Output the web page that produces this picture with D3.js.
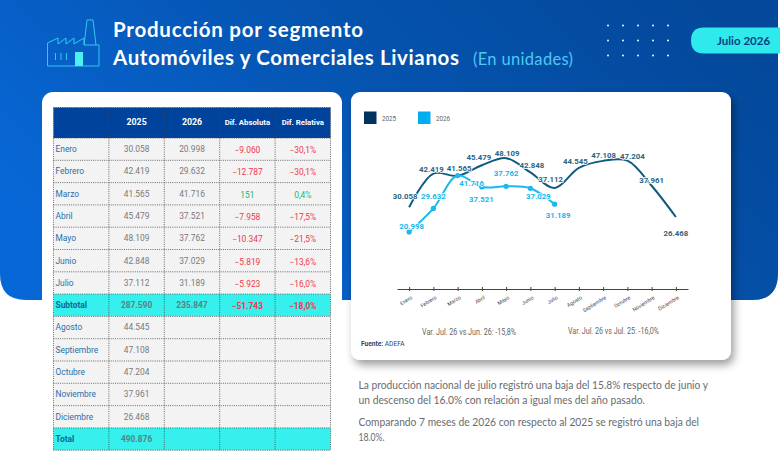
<!DOCTYPE html>
<html>
<head>
<meta charset="utf-8">
<script src="https://cdn.jsdelivr.net/npm/d3@7"></script>
<style>
  body { margin: 0; background: #fff; overflow: hidden; }
  svg { display: block; }
  text { font-family: Roboto, sans-serif; }
  .raleway { font-family: Lato, sans-serif; }
  .l25, .l26 { paint-order: stroke; stroke: #fff; stroke-width: 1.6px; stroke-linejoin: round; }
</style>
</head>
<body>
<div id="chart"></div>
<script>
const months = ["Enero","Febrero","Marzo","Abril","Mayo","Junio","Julio","Agosto","Septiembre","Octubre","Noviembre","Diciembre"];
const values2025 = [30058,42419,41565,45479,48109,42848,37112,44545,47108,47204,37961,26468];
const values2026 = [20998,29632,41716,37521,37762,37029,31189];
const difAbsoluta = [-9060,-12787,151,-7958,-10347,-5819,-5923];
const difRelativa = [-30.1,-30.1,0.4,-17.5,-21.5,-13.6,-16.0];
const subtotal = ["Subtotal",287590,235847,-51743,-18.0];
const total = ["Total",490876];
const headers = ["","2025","2026","Dif. Absoluta","Dif. Relativa"];

const width = 780, height = 455;

// label nudges, by hand
const offsets2025 = [[-4,-11],[-2,-5],[1.5,-7.5],[-3,-8],[1,-5.5],[1.5,-7],[-4,-9],[-3.5,-7],[0.5,-6],[5,-5],[0,-6],[0,16]];
const offsets2026 = [[2.5,-6],[0,-12.5],[14,7],[-0.5,12.5],[0,-13],[8,7.5],[3.5,11]];

const es = d3.formatLocale({decimal: ",", thousands: ".", grouping: [3], currency: ["",""]});
const fmt = es.format(",d");
const fmtPct = d => es.format(".1f")(d) + "%";

const svg = d3.select("#chart").append("svg")
    .attr("width", width)
    .attr("height", height)
    .attr("viewBox", "0 0 " + width + " " + height);

const defs = svg.append("defs");
const grad = defs.append("linearGradient").attr("id", "bg").attr("x1", 0).attr("x2", 1).attr("y1", 0.6).attr("y2", 0.2);
grad.append("stop").attr("offset", "0%").attr("stop-color", "#0867d6");
grad.append("stop").attr("offset", "55%").attr("stop-color", "#0553ae");
grad.append("stop").attr("offset", "100%").attr("stop-color", "#03489a");
defs.append("filter").attr("id", "shadow").attr("x", "-10%").attr("y", "-10%").attr("width", "125%").attr("height", "125%")
    .append("feDropShadow").attr("dx", 3).attr("dy", 5).attr("stdDeviation", 4.5).attr("flood-color", "#000").attr("flood-opacity", 0.38);

// header band
svg.append("path")
    .attr("d", "M0,0H778V274Q778,300 752,300H26Q0,300 0,274Z")
    .attr("fill", "url(#bg)");

// factory icon
const icon = svg.append("g").attr("fill", "none").attr("stroke", "#2fc9ee").attr("stroke-width", 1);
icon.append("path").attr("d", "M47.5,66V43L58,38V44L66,38V44L74,38V44L84,38V45H99V66Z");
icon.append("path").attr("d", "M84,45L87,20H93L96,45");
icon.append("path").attr("d", "M55.5,53V60M61,53V60M66.5,53V60");
svg.append("rect").attr("x", 75).attr("y", 52).attr("width", 8).attr("height", 14).attr("fill", "#4df2f0");

svg.append("text").attr("class", "raleway").attr("x", 113).attr("y", 37)
    .attr("fill", "#fff").attr("font-size", 20.5).attr("font-weight", 700)
    .attr("textLength", 250).attr("lengthAdjust", "spacing").text("Producción por segmento");
svg.append("text").attr("class", "raleway").attr("x", 113).attr("y", 65)
    .attr("fill", "#fff").attr("font-size", 20.5).attr("font-weight", 700)
    .attr("textLength", 346).attr("lengthAdjust", "spacing").text("Automóviles y Comerciales Livianos");
svg.append("text").attr("class", "raleway").attr("x", 473).attr("y", 65)
    .attr("fill", "#4cc8f2").attr("font-size", 16.5).attr("font-weight", 400)
    .attr("textLength", 100).attr("lengthAdjust", "spacing").text("(En unidades)");

// dots
svg.append("g").selectAll("circle")
    .data(d3.cross(d3.range(5), d3.range(3)))
    .join("circle")
    .attr("cx", d => 608 + d[0] * 15)
    .attr("cy", d => 25.5 + d[1] * 15)
    .attr("r", 1)
    .attr("fill", "#dff");

// date pill
svg.append("path")
    .attr("d", "M780,27.5H704Q691,27.5 691,40.5Q691,53.5 704,53.5H780Z")
    .attr("fill", "#2eeaec");
svg.append("text").attr("class", "raleway").attr("x", 717).attr("y", 44.5)
    .attr("fill", "#0c3f80").attr("font-size", 11.5).attr("font-weight", 700).text("Julio 2026");

// cards
svg.append("rect").attr("x", 42).attr("y", 92).attr("width", 300).attr("height", 363).attr("rx", 11).attr("fill", "#fff");
svg.append("rect").attr("x", 351).attr("y", 92).attr("width", 380).attr("height", 268).attr("rx", 9)
    .attr("fill", "#fff").attr("filter", "url(#shadow)");

// ---------- table ----------
const rows = months.map((m, i) => ({
    kind: "month",
    cells: i < 7
        ? [m, fmt(values2025[i]), fmt(values2026[i]), fmt(difAbsoluta[i]), fmtPct(difRelativa[i])]
        : [m, fmt(values2025[i]), "", "", ""],
    diff: i < 7 ? difAbsoluta[i] : 0
}));
rows.splice(7, 0, {
    kind: "total",
    cells: [subtotal[0], fmt(subtotal[1]), fmt(subtotal[2]), fmt(subtotal[3]), fmtPct(subtotal[4])],
    diff: subtotal[3]
});
rows.push({kind: "total", cells: [total[0], fmt(total[1]), "", "", ""], diff: 0});

const colX = d3.scaleBand().domain(d3.range(5)).range([53.5, 330.5]);
const rowY = d3.scaleBand().domain(d3.range(rows.length)).range([138, 450.2]);
const grid = "#444";
const table = svg.append("g");

table.append("rect").attr("x", 53.5).attr("y", 107.5).attr("width", 277).attr("height", 30.5).attr("fill", "#00439c");
table.selectAll(".hd").data(headers).join("text")
    .attr("class", "hd")
    .attr("x", (d, i) => colX(i) + colX.bandwidth() / 2)
    .attr("y", 125)
    .attr("text-anchor", "middle")
    .attr("fill", "#fff")
    .attr("font-size", (d, i) => i < 3 ? 8.8 : 7.8)
    .attr("font-weight", 700)
    .text(d => d);

const rowG = table.selectAll(".row").data(rows).join("g")
    .attr("class", "row")
    .attr("transform", (d, i) => "translate(0," + rowY(i) + ")");

rowG.append("rect")
    .attr("x", 53.5)
    .attr("width", 277)
    .attr("height", rowY.bandwidth())
    .attr("fill", d => d.kind == "total" ? "#35f0ec" : "#f3f3f3");

rowG.selectAll("text").data(d => d.cells.map((c, i) => ({text: c, col: i, row: d}))).join("text")
    .attr("x", d => d.col == 0 ? 55.5 : colX(d.col) + colX.bandwidth() / 2)
    .attr("y", d => d.col > 2 ? 15 : 14)
    .attr("text-anchor", d => d.col == 0 ? "start" : "middle")
    .attr("font-size", 8.4)
    .attr("font-weight", d => d.row.kind == "total" ? 700 : 400)
    .attr("fill", d => {
        if (d.col == 0) return d.row.kind == "total" ? "#0b6a96" : "#2c6ea8";
        if (d.col < 3) return d.row.kind == "total" ? "#5f7f85" : "#7a7a7a";
        return d.row.diff < 0 ? "#f0384a" : "#22b86c";
    })
    .text(d => d.text);

// grid lines, dotted like the source table
const hLines = [107.5].concat(d3.range(rows.length).map(rowY), [450.2]);
table.selectAll(".h").data(hLines).join("line")
    .attr("class", "h")
    .attr("x1", 53.5).attr("x2", 330.5)
    .attr("y1", d => d).attr("y2", d => d)
    .attr("stroke", grid).attr("stroke-width", 0.8).attr("stroke-dasharray", "1 1.2");
table.selectAll(".v").data(d3.range(5).map(colX).concat([330.5])).join("line")
    .attr("class", "v")
    .attr("x1", d => d).attr("x2", d => d)
    .attr("y1", 107.5).attr("y2", 450.2)
    .attr("stroke", grid).attr("stroke-width", 0.8).attr("stroke-dasharray", "1 1.2");

// ---------- line chart ----------
const x = d3.scalePoint().domain(months).range([397, 688]).padding(0.5);
const y = d3.scaleLinear().domain([0, 50000]).range([289, 153]);

const line = d3.line()
    .x((d, i) => x(months[i]))
    .y(d => y(d))
    .curve(d3.curveCatmullRom.alpha(0.5));

const plot = svg.append("g");

const axis = plot.append("g")
    .attr("transform", "translate(0,289)")
    .call(d3.axisBottom(x).tickSize(2).tickSizeOuter(0));
axis.select(".domain").attr("stroke", "#444").attr("stroke-width", 1.2);
axis.selectAll(".tick line").attr("y1", -2).attr("stroke", "#444");
axis.selectAll(".tick text")
    .attr("font-family", "Liberation Sans, sans-serif")
    .attr("font-size", 5.2)
    .attr("fill", "#444")
    .attr("text-anchor", "end")
    .attr("transform", "translate(-1,3) rotate(-32)")
    .attr("dy", "0.5em");

plot.append("path").datum(values2025)
    .attr("d", line).attr("fill", "none").attr("stroke", "#0f5b7e").attr("stroke-width", 2);
plot.append("path").datum(values2026)
    .attr("d", line).attr("fill", "none").attr("stroke", "#17b9ef").attr("stroke-width", 2);

plot.selectAll(".pt").data(values2026).join("circle")
    .attr("class", "pt")
    .attr("cx", (d, i) => x(months[i]))
    .attr("cy", d => y(d))
    .attr("r", 2.6)
    .attr("fill", "#17b9ef");

plot.selectAll(".l25").data(values2025).join("text")
    .attr("class", "l25")
    .attr("x", (d, i) => x(months[i]) + offsets2025[i][0])
    .attr("y", (d, i) => y(d) + offsets2025[i][1] + 3)
    .attr("text-anchor", "middle")
    .attr("font-size", 7.8).attr("font-weight", 700).attr("fill", "#2a6484")
    .text(fmt);

plot.selectAll(".l26").data(values2026).join("text")
    .attr("class", "l26")
    .attr("x", (d, i) => x(months[i]) + offsets2026[i][0])
    .attr("y", (d, i) => y(d) + offsets2026[i][1] + 3)
    .attr("text-anchor", "middle")
    .attr("font-size", 7.8).attr("font-weight", 700).attr("fill", "#17b5ec")
    .text(fmt);

// legend
const legend = svg.append("g").selectAll("g").data([["2025", "#00335f", 364], ["2026", "#00aeef", 418]]).join("g");
legend.append("rect").attr("x", d => d[2]).attr("y", 111.5).attr("width", 12.5).attr("height", 12.5).attr("fill", d => d[1]);
legend.append("text").attr("x", d => d[2] + 18).attr("y", 120.5)
    .attr("font-size", 6.3).attr("fill", "#666").text(d => d[0]);

// notes under the chart
svg.append("text").attr("x", 422).attr("y", 335)
    .attr("font-family", "Liberation Sans, sans-serif").attr("font-size", 8.5).attr("fill", "#666")
    .attr("textLength", 94).attr("lengthAdjust", "spacingAndGlyphs")
    .text("Var. Jul. 26 vs Jun. 26: -15,8%");
svg.append("text").attr("x", 568).attr("y", 334)
    .attr("font-family", "Liberation Sans, sans-serif").attr("font-size", 8.5).attr("fill", "#666")
    .attr("textLength", 91).attr("lengthAdjust", "spacingAndGlyphs")
    .text("Var. Jul. 26 vs Jul. 25: -16,0%");
const fuente = svg.append("text").attr("x", 361).attr("y", 346).attr("font-size", 6.6).attr("fill", "#1d4a6d");
fuente.append("tspan").attr("font-weight", 700).text("Fuente: ");
fuente.append("tspan").text("ADEFA");

// paragraph
const paragraph = [
    ["La producción nacional de julio registró una baja del 15.8% respecto de junio y", 389, 349.5],
    ["un descenso del 16.0% con relación a igual mes del año pasado.", 404, 286.5],
    ["Comparando 7 meses de 2026 con respecto al 2025 se registró una baja del", 426, 340.5],
    ["18.0%.", 441, 26]
];
svg.append("g").selectAll("text").data(paragraph).join("text")
    .attr("class", "raleway")
    .attr("x", 358.5)
    .attr("y", d => d[1])
    .attr("font-size", 10.8)
    .attr("fill", "#666b72")
    .attr("textLength", d => d[2])
    .attr("lengthAdjust", "spacingAndGlyphs")
    .text(d => d[0]);
</script>
</body>
</html>
